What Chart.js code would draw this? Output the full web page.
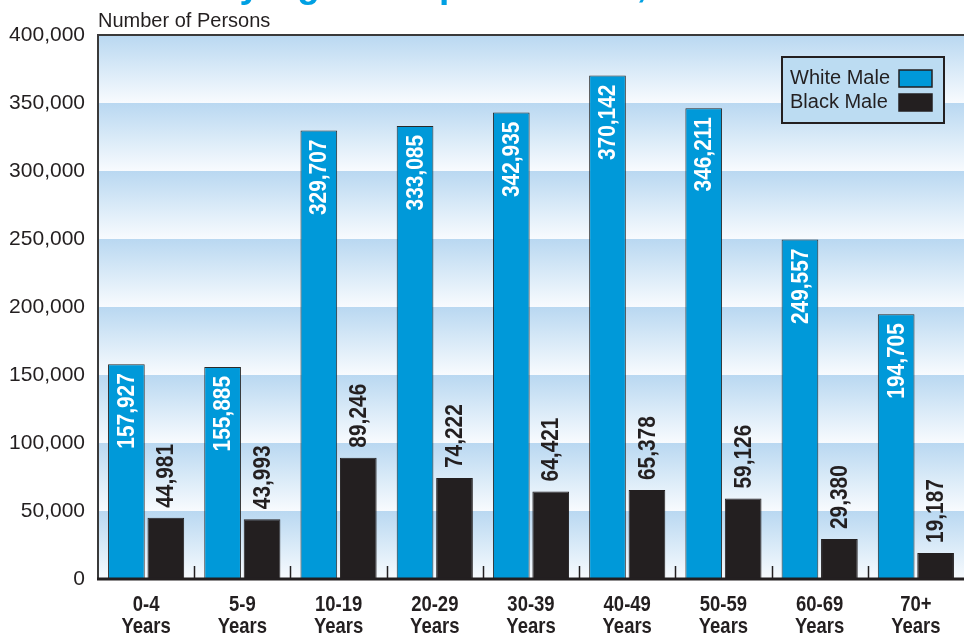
<!DOCTYPE html>
<html>
<head>
<meta charset="utf-8">
<script src="https://cdn.jsdelivr.net/npm/chart.js@4.4.0/dist/chart.umd.min.js"></script>
<style>
  body { margin: 0; background: #fff; }
  #wrap { width: 964px; height: 635px; }
</style>
</head>
<body>
<div id="wrap"><canvas id="chart" width="964" height="635"></canvas></div>
<script>
// Chart data
const ageGroups = [['0-4', 'Years'], ['5-9', 'Years'], ['10-19', 'Years'], ['20-29', 'Years'], ['30-39', 'Years'],
                   ['40-49', 'Years'], ['50-59', 'Years'], ['60-69', 'Years'], ['70+', 'Years']];
const whiteMale = [157927, 155885, 329707, 333085, 342935, 370142, 346211, 249557, 194705];
const blackMale = [44981, 43993, 89246, 74222, 64421, 65378, 59126, 29380, 19187];
const yTicks = [0, 50000, 100000, 150000, 200000, 250000, 300000, 350000, 400000];

const regular = '"Liberation Sans", Arial, Helvetica, sans-serif';
const ink = '#231f20';
const fmt = v => v.toLocaleString('en-US');

// Gradient bands between y gridlines
const bandsPlugin = {
    id: 'bands',
    beforeDatasetsDraw(chart) {
        const { ctx, chartArea } = chart;
        const y = chart.scales.y;
        for (let i = 0; i < yTicks.length - 1; i++) {
            const top = y.getPixelForValue(yTicks[i + 1]);
            const bottom = y.getPixelForValue(yTicks[i]);
            const g = ctx.createLinearGradient(0, top, 0, bottom);
            g.addColorStop(0, '#b9d8f1');
            g.addColorStop(1, '#f8fbfe');
            ctx.fillStyle = g;
            ctx.fillRect(chartArea.left, top, chartArea.right - chartArea.left, bottom - top);
        }
    }
};

// Frame, value labels, category labels, legend box and header texts
const decorPlugin = {
    id: 'decor',
    afterDatasetsDraw(chart) {
        const { ctx, chartArea } = chart;
        const x = chart.scales.x;
        ctx.save();

        // value labels, rotated and condensed
        chart.data.datasets.forEach((ds, di) => {
            chart.getDatasetMeta(di).data.forEach((bar, i) => {
                ctx.save();
                ctx.font = 'bold 24px ' + regular;
                ctx.textBaseline = 'middle';
                if (di === 0) {
                    ctx.translate(bar.x, bar.y + 9);
                    ctx.rotate(-Math.PI / 2);
                    ctx.scale(0.87, 1);
                    ctx.textAlign = 'right';
                    ctx.fillStyle = '#ffffff';
                } else {
                    ctx.translate(bar.x, bar.y - 10);
                    ctx.rotate(-Math.PI / 2);
                    ctx.scale(0.87, 1);
                    ctx.textAlign = 'left';
                    ctx.fillStyle = ink;
                }
                ctx.fillText(fmt(ds.data[i]), 0, 1);
                ctx.restore();
            });
        });

        // category labels, two lines, condensed
        ctx.fillStyle = ink;
        ctx.font = 'bold 22px ' + regular;
        ctx.textAlign = 'center';
        ctx.textBaseline = 'middle';
        ageGroups.forEach((lines, i) => {
            const cx = x.getPixelForValue(i);
            lines.forEach((t, li) => {
                ctx.save();
                ctx.translate(cx, 605 + li * 22);
                ctx.scale(0.84, 1);
                ctx.fillText(t, 0, 0);
                ctx.restore();
            });
        });

        // small tick marks between categories
        ctx.strokeStyle = ink;
        ctx.lineWidth = 1.5;
        for (let i = 1; i < ageGroups.length; i++) {
            const bx = Math.round((x.getPixelForValue(i - 1) + x.getPixelForValue(i)) / 2) + 0.5;
            ctx.beginPath();
            ctx.moveTo(bx, chartArea.bottom - 13);
            ctx.lineTo(bx, chartArea.bottom);
            ctx.stroke();
        }

        // frame
        ctx.strokeStyle = '#3a3a3a';
        ctx.lineWidth = 2;
        ctx.beginPath();
        ctx.moveTo(chartArea.right, chartArea.top);
        ctx.lineTo(chartArea.left, chartArea.top);
        ctx.lineTo(chartArea.left, chartArea.bottom);
        ctx.stroke();
        ctx.strokeStyle = ink;
        ctx.lineWidth = 3;
        ctx.beginPath();
        ctx.moveTo(chartArea.left - 1, chartArea.bottom);
        ctx.lineTo(chartArea.right, chartArea.bottom);
        ctx.stroke();

        // legend box
        ctx.fillStyle = '#bcdcf2';
        ctx.fillRect(782, 57, 162, 66);
        ctx.strokeStyle = ink;
        ctx.lineWidth = 2;
        ctx.strokeRect(782, 57, 162, 66);
        ctx.font = '20px ' + regular;
        ctx.textAlign = 'left';
        ctx.textBaseline = 'middle';
        chart.data.datasets.forEach((ds, di) => {
            const cy = 78 + di * 24;
            ctx.fillStyle = ink;
            ctx.fillText(ds.label, 790, cy);
            ctx.fillStyle = ds.backgroundColor;
            ctx.fillRect(899, cy - 8, 33, 17);
            ctx.lineWidth = 1.5;
            ctx.strokeRect(899, cy - 8, 33, 17);
        });

        // y axis title
        ctx.fillStyle = ink;
        ctx.font = '20px ' + regular;
        ctx.textBaseline = 'alphabetic';
        ctx.fillText('Number of Persons', 98, 27);

        // title, cut off at top edge
        ctx.fillStyle = '#00a0e3';
        ctx.font = 'bold 37px ' + regular;
        ctx.fillText('by Age Group and Race,', 217, -3);

        ctx.restore();
    }
};

new Chart(document.getElementById('chart'), {
    type: 'bar',
    data: {
        labels: ageGroups,
        datasets: [
            {
                label: 'White Male',
                data: whiteMale,
                backgroundColor: '#0099d9',
                borderColor: '#2a2a2a',
                borderWidth: 1
            },
            {
                label: 'Black Male',
                data: blackMale,
                backgroundColor: '#231f20',
                borderColor: '#231f20',
                borderWidth: 1
            }
        ]
    },
    options: {
        responsive: false,
        animation: false,
        categoryPercentage: 0.82,
        barPercentage: 0.93,
        layout: { padding: { top: 35, right: 0, left: 0, bottom: 0 } },
        plugins: {
            legend: { display: false },
            tooltip: { enabled: false }
        },
        scales: {
            x: {
                grid: { display: false },
                border: { display: false },
                ticks: { display: false },
                afterFit(scale) { scale.height = 56; }
            },
            y: {
                min: 0,
                max: 400000,
                grid: { display: false },
                border: { display: false },
                ticks: {
                    stepSize: 50000,
                    color: ink,
                    padding: 5,
                    font: { family: regular, size: 21 },
                    callback: v => fmt(v)
                },
                afterFit(scale) { scale.width = 98; }
            }
        }
    },
    plugins: [bandsPlugin, decorPlugin]
});
</script>
</body>
</html>
